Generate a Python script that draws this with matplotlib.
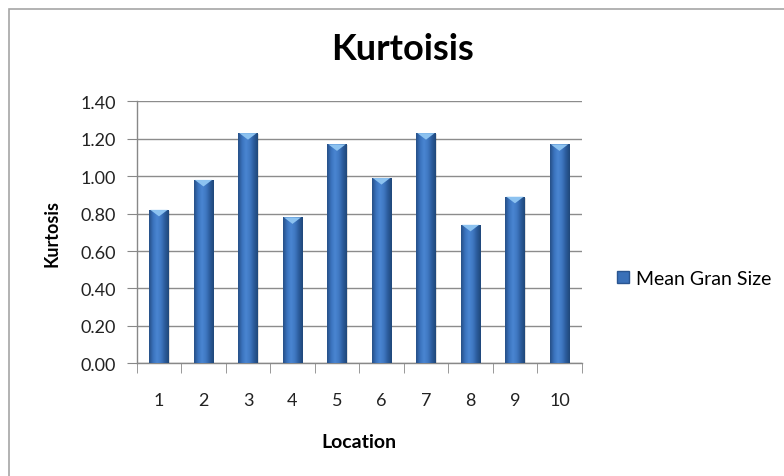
import matplotlib.pyplot as plt
import numpy as np
from matplotlib.patches import Rectangle, Polygon
from matplotlib.colors import LinearSegmentedColormap

locations = ['1', '2', '3', '4', '5', '6', '7', '8', '9', '10']
kurtosis = [0.82, 0.98, 1.23, 0.78, 1.17, 0.99, 1.23, 0.74, 0.89, 1.17]
y_ticks = [0.0, 0.2, 0.4, 0.6, 0.8, 1.0, 1.2, 1.4]

plt.rcParams['font.family'] = ['Lato', 'DejaVu Sans']

fig = plt.figure(figsize=(7.84, 4.77), dpi=100)
ax = fig.add_axes([0.1744, 0.2363, 0.5676, 0.5492])

# frame around the chart (runs off the right and bottom edge)
fig.patches.append(Rectangle((9 / 784, -0.1), 2.0, 1 - 10 / 477 + 0.1,
                             transform=fig.transFigure, fill=False,
                             edgecolor='#a6a6a6', linewidth=1.2))

bar_cmap = LinearSegmentedColormap.from_list(
    'cyl', ['#264f86', '#3a72bd', '#4a86d2', '#3f78c2', '#2c5c9c', '#1f4779'])
grad = np.linspace(0, 1, 64).reshape(1, -1)

x = np.arange(len(locations))
width = 0.43
bars = ax.bar(x, kurtosis, width=width, color='#3a70b8', zorder=3,
              label='Mean Gran Size')
for b, v in zip(bars, kurtosis):
    x0 = b.get_x()
    # soft shadow
    ax.add_patch(Rectangle((x0 + 0.03, 0), width, v - 0.005,
                           facecolor='#000000', alpha=0.12, zorder=2,
                           linewidth=0))
    im = ax.imshow(grad, cmap=bar_cmap, extent=[x0, x0 + width, 0, v],
                   aspect='auto', zorder=3.5, interpolation='bicubic')
    im.set_clip_path(b)
    cap = 0.025
    ax.add_patch(Polygon([[x0 + 0.02, v], [x0 + width - 0.02, v],
                          [x0 + width * 0.5, v - cap * 1.4]],
                         closed=True, facecolor='#8cc2f0',
                         edgecolor='none', zorder=4))
    b.set_facecolor('none')

ax.set_xlim(-0.5, len(locations) - 0.5)
ax.set_ylim(0, 1.4)
ax.set_yticks(y_ticks)
ax.set_yticklabels([f'{t:.2f}' for t in y_ticks], fontsize=13, color='#222222')
ax.set_xticks(x)
ax.set_xticklabels(locations, fontsize=13, color='#222222')
ax.set_xticks(np.arange(len(locations) + 1) - 0.5, minor=True)
ax.tick_params(axis='x', which='major', length=0, pad=21)
ax.tick_params(axis='x', which='minor', length=7, color='#888888')
ax.tick_params(axis='y', length=7, color='#888888', pad=8)

ax.yaxis.grid(True, color='#8c8c8c', linewidth=1)
ax.set_axisbelow(True)
for s in ['top', 'right']:
    ax.spines[s].set_visible(False)
for s in ['left', 'bottom']:
    ax.spines[s].set_color('#888888')
    ax.spines[s].set_linewidth(1)

ax.set_xlabel('Location', fontsize=14, fontweight='bold', labelpad=18)
ax.set_ylabel('Kurtosis', fontsize=13, fontweight='bold', labelpad=14)
fig.text(402 / 784, 1 - 50 / 477, 'Kurtoisis', fontsize=26, fontweight='bold',
         ha='center', va='center')

leg = ax.legend(handles=[Rectangle((0, 0), 1, 1, facecolor='#3a70b8',
                                   edgecolor='#2a5590')],
                labels=['Mean Gran Size'], loc='center left',
                bbox_to_anchor=(1.04, 0.325), frameon=False, fontsize=14,
                handlelength=0.6, handleheight=0.6, handletextpad=0.4)

fig.savefig('out.png', dpi=100)
